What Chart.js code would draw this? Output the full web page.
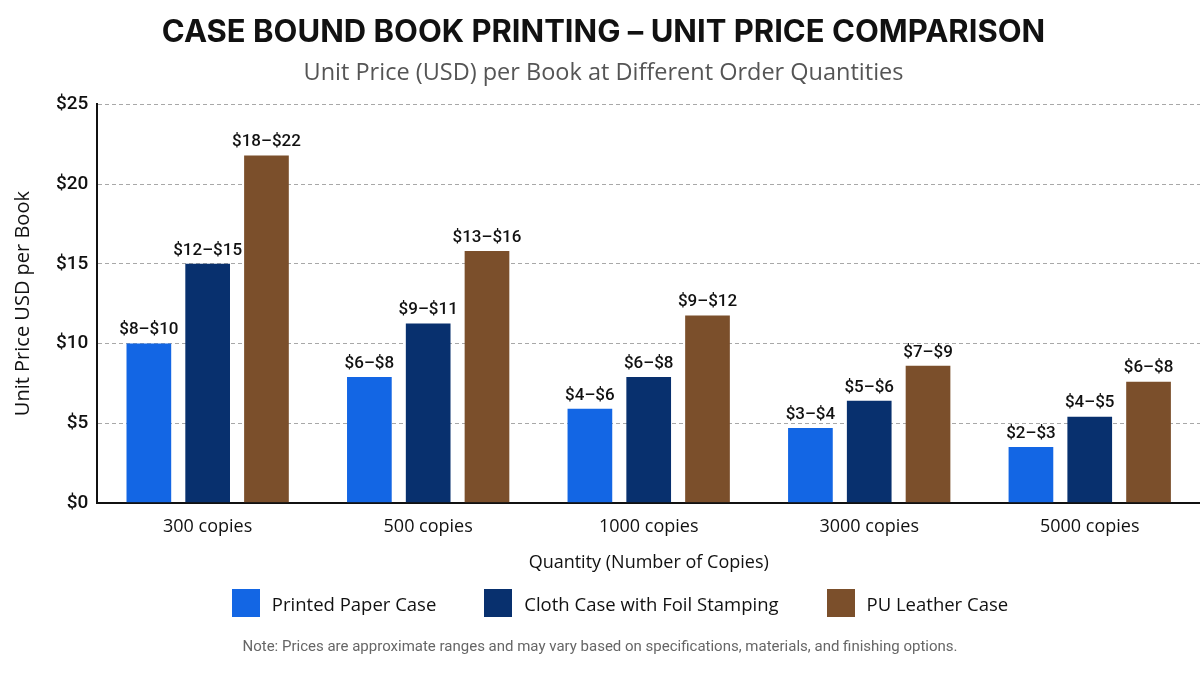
<!DOCTYPE html>
<html>
<head>
<meta charset="utf-8">
<script src="https://cdn.jsdelivr.net/npm/chart.js@4.4.1/dist/chart.umd.min.js"></script>
<style>
  html, body { margin: 0; padding: 0; background: #fff; }
  #wrap { position: relative; width: 1200px; height: 675px; }
  #legend {
    position: absolute; left: 40px; right: 0; top: 589px;
    display: flex; justify-content: center; gap: 48px;
    font: 18.5px "Open Sans", sans-serif; color: #111;
  }
  #legend .item { display: flex; align-items: center; height: 28px; }
  #legend .box { width: 28px; height: 28px; margin-right: 12px; }
  #note {
    position: absolute; left: 0; right: 0; top: 637px;
    text-align: center; font: 15px "Roboto", "Noto Sans", sans-serif; color: #666;
  }
</style>
</head>
<body>
<div id="wrap">
  <canvas id="priceChart" width="1200" height="675"></canvas>
  <div id="legend"></div>
  <div id="note">Note: Prices are approximate ranges and may vary based on specifications, materials, and finishing options.</div>
</div>
<script>
// quantities on the x axis
var categories = ["300 copies", "500 copies", "1000 copies", "3000 copies", "5000 copies"];

// bar heights (USD)
var paperValues = [10.0, 7.9, 5.9, 4.7, 3.5];
var clothValues = [15.0, 11.25, 7.9, 6.4, 5.4];
var leatherValues = [21.8, 15.8, 11.75, 8.6, 7.6];

// price range labels shown above the bars
var paperLabels = ["$8–$10", "$6–$8", "$4–$6", "$3–$4", "$2–$3"];
var clothLabels = ["$12–$15", "$9–$11", "$6–$8", "$5–$6", "$4–$5"];
var leatherLabels = ["$18–$22", "$13–$16", "$9–$12", "$7–$9", "$6–$8"];

var yTicks = [0, 5, 10, 15, 20, 25];

// draws the range text on top of each bar
var barLabels = {
    id: 'barLabels',
    afterDatasetsDraw: function(chart) {
        var ctx = chart.ctx;
        ctx.save();
        ctx.font = '500 17px Roboto';
        ctx.fillStyle = '#111';
        ctx.textAlign = 'center';
        ctx.textBaseline = 'bottom';
        chart.data.datasets.forEach(function(ds, i) {
            var meta = chart.getDatasetMeta(i);
            meta.data.forEach(function(bar, j) {
                ctx.fillText(ds.rangeLabels[j], bar.x, bar.y - 5);
            });
        });
        ctx.restore();
    }
};

var ctx = document.getElementById("priceChart");
var myChart = new Chart(ctx, {
    type: 'bar',
    data: {
        labels: categories,
        datasets: [{
            label: 'Printed Paper Case',
            data: paperValues,
            rangeLabels: paperLabels,
            backgroundColor: '#1366e4'
        }, {
            label: 'Cloth Case with Foil Stamping',
            data: clothValues,
            rangeLabels: clothLabels,
            backgroundColor: '#08306e'
        }, {
            label: 'PU Leather Case',
            data: leatherValues,
            rangeLabels: leatherLabels,
            backgroundColor: '#7b4f2b'
        }]
    },
    options: {
        responsive: false,
        animation: false,
        categoryPercentage: 0.8,
        barPercentage: 0.76,
        layout: {
            padding: { left: 7, right: 0, bottom: 97 }
        },
        plugins: {
            title: {
                display: true,
                text: 'CASE BOUND BOOK PRINTING – UNIT PRICE COMPARISON',
                color: '#111',
                font: { family: 'Inter', size: 31, weight: 'bold' },
                padding: { top: 14, bottom: 8 }
            },
            subtitle: {
                display: true,
                text: 'Unit Price (USD) per Book at Different Order Quantities',
                color: '#555',
                font: { family: 'Open Sans', size: 23.5 },
                padding: { bottom: 17 }
            },
            legend: { display: false },
            tooltip: { enabled: false }
        },
        scales: {
            x: {
                grid: { display: false },
                border: { color: '#111', width: 2 },
                ticks: {
                    color: '#111',
                    font: { family: 'Open Sans', size: 18 },
                    padding: 5
                },
                title: {
                    display: true,
                    text: 'Quantity (Number of Copies)',
                    color: '#111',
                    font: { family: 'Open Sans', size: 18 },
                    padding: { top: 10, bottom: 4 }
                }
            },
            y: {
                min: 0,
                max: 25,
                afterBuildTicks: function(axis) {
                    axis.ticks = yTicks.map(function(v) { return { value: v }; });
                },
                grid: {
                    color: '#a8a8a8',
                    drawTicks: false
                },
                border: { color: '#111', width: 2, dash: [4, 3] },
                ticks: {
                    color: '#111',
                    font: { family: 'Roboto', size: 19, weight: '500' },
                    padding: 9,
                    callback: function(v) { return '$' + v; }
                },
                title: {
                    display: true,
                    text: 'Unit Price USD per Book',
                    color: '#111',
                    font: { family: 'Open Sans', size: 20 },
                    padding: { bottom: 12 }
                }
            }
        }
    },
    plugins: [barLabels]
});

// legend built from the chart's own datasets
var legendEl = document.getElementById('legend');
myChart.data.datasets.forEach(function(ds) {
    var item = document.createElement('div');
    item.className = 'item';
    var box = document.createElement('span');
    box.className = 'box';
    box.style.background = ds.backgroundColor;
    item.appendChild(box);
    item.appendChild(document.createTextNode(ds.label));
    legendEl.appendChild(item);
});
</script>
</body>
</html>
